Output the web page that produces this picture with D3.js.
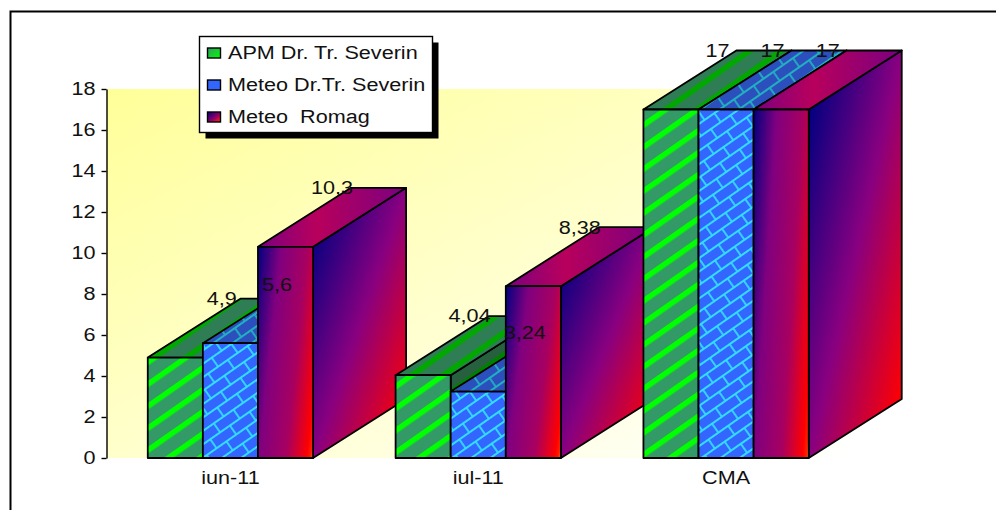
<!DOCTYPE html>
<html>
<head>
<meta charset="utf-8">
<title>Chart</title>
<script src="https://cdn.jsdelivr.net/npm/d3@7"></script>
<style>
  html, body { margin: 0; padding: 0; background: #fff; }
  svg { display: block; }
  text { font-family: "Liberation Sans", Arial, sans-serif; font-size: 18px; fill: #111; }
</style>
</head>
<body>
<div id="chart"></div>
<script>
// Data
const categories = ["iun-11", "iul-11", "CMA"];
const seriesNames = ["APM Dr. Tr. Severin", "Meteo Dr.Tr. Severin", "Meteo  Romag"];
const apmValues = [4.9, 4.04, 17];
const meteoValues = [5.6, 3.24, 17];
const romagValues = [10.3, 8.38, 17];
const yTicks = [0, 2, 4, 6, 8, 10, 12, 14, 16, 18];
const seriesValues = [apmValues, meteoValues, romagValues];

const width = 996;
const height = 510;
const margin = { top: 89, left: 106.5, bottom: 52, right: 146 };
const depthX = 93;
const depthY = 59;
const textStretch = 1.2;

const svg = d3.select("#chart")
  .append("svg")
    .attr("width", width)
    .attr("height", height)
    .attr("viewBox", `0 0 ${width} ${height}`);

/*****************/
/*    Scales     */
/*****************/
const bottom = height - margin.bottom;
const right = width - margin.right;

const yScale = d3.scaleLinear()
  .domain([0, 18])
  .range([bottom, margin.top]);

const xGroup = d3.scaleBand()
  .domain(categories)
  .range([margin.left, right])
  .paddingInner(0.333)
  .paddingOuter(0.1665);

const xSeries = d3.scaleBand()
  .domain(d3.range(seriesNames.length))
  .range([0, xGroup.bandwidth()]);

/*******************/
/*    Gradients    */
/*******************/
const defs = svg.append("defs");

const addGradient = (id, stops, x1, y1, x2, y2) => {
  const g = defs.append("linearGradient")
    .attr("id", id)
    .attr("x1", x1).attr("y1", y1)
    .attr("x2", x2).attr("y2", y2);
  stops.forEach(s => g.append("stop").attr("offset", s[0]).attr("stop-color", s[1]));
};

addGradient("wall", [[0, "#ffff99"], [1, "#ffffff"]], 0, 0, 1, 1);
addGradient("romag-front", [[0, "#000080"], [0.3, "#80007f"], [0.65, "#a80060"], [0.92, "#ff0000"], [0.97, "#ff2000"], [1, "#ff9900"]], 0, 0, 1.207, 0.483);
addGradient("romag-side", [[0.07, "#000080"], [0.5, "#880080"], [0.93, "#ff0000"]], 0, 0, 1, 1);
addGradient("romag-top", [[0, "#7a0080"], [0.4, "#b8005c"], [1, "#7a0080"]], 0, 0, 1, 0);
addGradient("romag-key", [[0, "#000080"], [0.6, "#990066"], [1, "#ff3300"]], 0, 0, 1, 1);
addGradient("apm-key", [[0, "#339966"], [1, "#00ff00"]], 0, 0, 1, 1);

/******************/
/*    Patterns    */
/******************/
const addStripes = (id, base, stripe) => {
  const p = defs.append("pattern")
    .attr("id", id)
    .attr("width", 18)
    .attr("height", 18)
    .attr("patternUnits", "userSpaceOnUse")
    .attr("patternTransform", "translate(148 0) rotate(-35)");
  p.append("rect").attr("width", 18).attr("height", 18).attr("fill", base);
  p.append("rect").attr("y", 6).attr("width", 18).attr("height", 5.5).attr("fill", stripe);
};

const addBricks = (id, base, mortar) => {
  const w = 24;
  const h = 11;
  const p = defs.append("pattern")
    .attr("id", id)
    .attr("width", w)
    .attr("height", h * 2)
    .attr("patternUnits", "userSpaceOnUse")
    .attr("patternTransform", "translate(203 0) rotate(-35)");
  p.append("rect").attr("width", w).attr("height", h * 2).attr("fill", base);
  p.append("path")
    .attr("d", `M0,1 H${w} M0,${h + 1} H${w} M6,1 V${h + 1} M18,${h + 1} V${h * 2 + 1} M18,-${h - 1} V1`)
    .attr("fill", "none")
    .attr("stroke", mortar)
    .attr("stroke-width", 1.8);
};

addStripes("apm-front", "#339966", "#00ff00");
addStripes("apm-top", "#2e7d55", "#00a800");
addStripes("apm-side", "#26603f", "#008000");
addBricks("meteo-front", "#3366ff", "#33ddff");
addBricks("meteo-top", "#2b50bd", "#22b0c0");
addBricks("meteo-side", "#2b50bd", "#22b0c0");

const faceFills = [
  { front: "url(#apm-front)", top: "url(#apm-top)", side: "url(#apm-side)", key: "url(#apm-key)" },
  { front: "url(#meteo-front)", top: "url(#meteo-top)", side: "url(#meteo-side)", key: "#3366ff" },
  { front: "url(#romag-front)", top: "url(#romag-top)", side: "url(#romag-side)", key: "url(#romag-key)" }
];

// Outer frame, open on the right and at the bottom
svg.append("path")
  .attr("d", `M10.5,${height} V11.5 H${width}`)
  .attr("fill", "none")
  .attr("stroke", "#000")
  .attr("stroke-width", 2);

// Back wall
svg.append("rect")
  .attr("x", margin.left)
  .attr("y", margin.top)
  .attr("width", right - margin.left)
  .attr("height", bottom - margin.top)
  .attr("fill", "url(#wall)");

/**************/
/*    Axes    */
/**************/
const stretchText = (selection) => {
  selection.each(function () {
    d3.select(this)
      .attr("textLength", this.getComputedTextLength() * textStretch)
      .attr("lengthAdjust", "spacingAndGlyphs");
  });
};

const leftAxis = svg.append("g")
  .attr("transform", `translate(${margin.left}, 0)`)
  .call(d3.axisLeft(yScale).tickValues(yTicks).tickSize(5).tickSizeOuter(0).tickPadding(6));
leftAxis.selectAll("path, line").attr("stroke", "#000").attr("stroke-width", 1.4);
leftAxis.attr("font-size", null).attr("font-family", null);
leftAxis.selectAll("text").call(stretchText);

const bottomAxis = svg.append("g")
  .attr("transform", `translate(0, ${bottom})`)
  .call(d3.axisBottom(xGroup).tickSize(0).tickPadding(13));
bottomAxis.select(".domain").remove();
bottomAxis.attr("font-size", null).attr("font-family", null);
bottomAxis.selectAll("text").call(stretchText);

/**************/
/*    Bars    */
/**************/
const points = (pts) => pts.map(p => p.join(",")).join(" ");

categories.forEach((cat, c) => {
  const group = svg.append("g").attr("class", "group");
  seriesValues.forEach((values, s) => {
    const x0 = xGroup(cat) + xSeries(s);
    const x1 = x0 + xSeries.bandwidth();
    const y0 = yScale(values[c]);
    const y1 = yScale(0);
    const bar = group.append("g")
      .attr("stroke", "#000")
      .attr("stroke-width", 1.8)
      .attr("stroke-linejoin", "round");
    bar.append("polygon")
      .attr("points", points([[x1, y0], [x1 + depthX, y0 - depthY], [x1 + depthX, y1 - depthY], [x1, y1]]))
      .attr("fill", faceFills[s].side);
    bar.append("polygon")
      .attr("points", points([[x0, y0], [x0 + depthX, y0 - depthY], [x1 + depthX, y0 - depthY], [x1, y0]]))
      .attr("fill", faceFills[s].top);
    bar.append("rect")
      .attr("x", x0)
      .attr("y", y0)
      .attr("width", x1 - x0)
      .attr("height", y1 - y0)
      .attr("fill", faceFills[s].front);
  });
});

// Value labels sit on the back edge of each top face
categories.forEach((cat, c) => {
  seriesValues.forEach((values, s) => {
    svg.append("text")
      .attr("x", xGroup(cat) + xSeries(s) + xSeries.bandwidth() / 2 + depthX / 2)
      .attr("y", yScale(values[c]) - depthY)
      .attr("dy", "0.35em")
      .attr("text-anchor", "middle")
      .text(String(values[c]).replace(".", ","))
      .call(stretchText);
  });
});

/****************/
/*    Legend    */
/****************/
const legend = svg.append("g").attr("transform", "translate(199.5, 36.5)");
legend.append("rect")
  .attr("x", 6).attr("y", 6)
  .attr("width", 233).attr("height", 96)
  .attr("fill", "#000");
legend.append("rect")
  .attr("width", 233).attr("height", 96)
  .attr("fill", "#fff")
  .attr("stroke", "#000")
  .attr("stroke-width", 1.4);

seriesNames.forEach((name, i) => {
  const rowY = 16.5 + i * 32;
  legend.append("rect")
    .attr("x", 8).attr("y", rowY - 5)
    .attr("width", 13).attr("height", 10)
    .attr("fill", faceFills[i].key)
    .attr("stroke", "#000")
    .attr("stroke-width", 1.4);
  legend.append("text")
    .attr("x", 28.5)
    .attr("y", rowY)
    .attr("dy", "0.35em")
    .style("white-space", "pre")
    .text(name)
    .call(stretchText);
});
</script>
</body>
</html>
